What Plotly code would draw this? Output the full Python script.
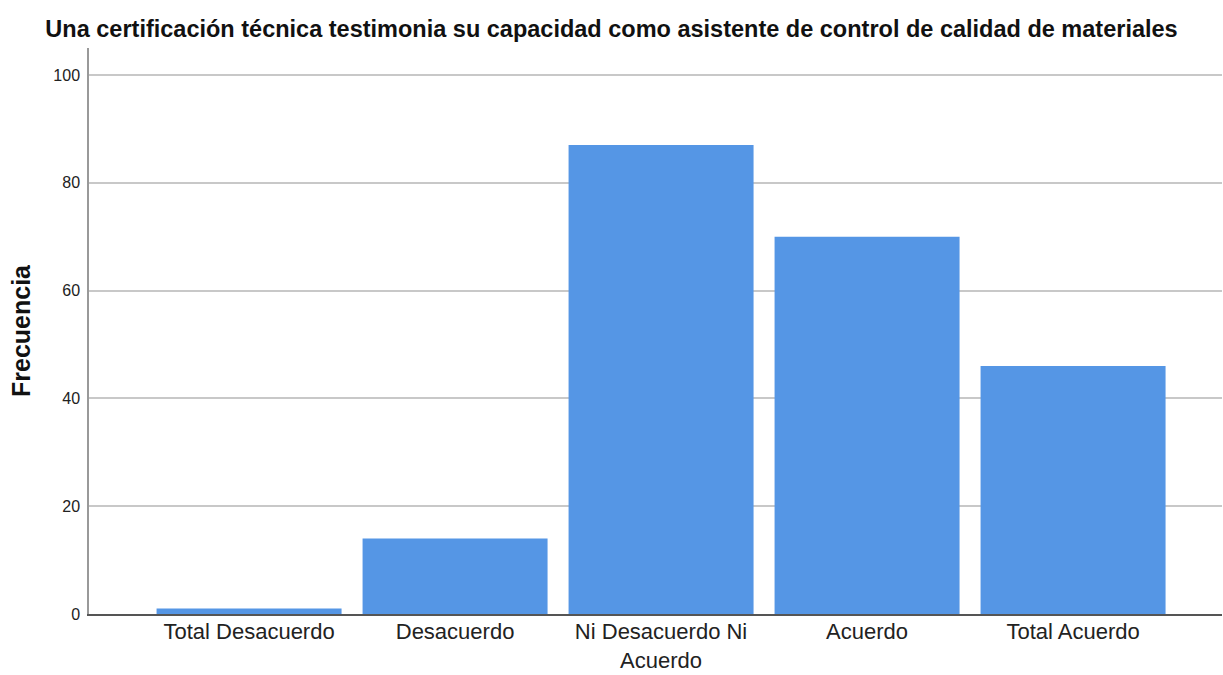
import plotly.graph_objects as go

categories = ["Total Desacuerdo", "Desacuerdo", "Ni Desacuerdo Ni<br>Acuerdo", "Acuerdo", "Total Acuerdo"]
frecuencia = [1, 14, 87, 70, 46]
y_ticks = [0, 20, 40, 60, 80, 100]

title_text = "Una certificación técnica testimonia su capacidad como asistente de control de calidad de materiales"
y_title = "Frecuencia"

FONT = "Liberation Sans, Arial, sans-serif"

fig = go.Figure(
    go.Bar(
        x=list(range(len(categories))),
        y=frecuencia,
        marker=dict(color="#5596E5", line=dict(width=0)),
        hoverinfo="skip",
    )
)

fig.update_layout(
    width=1223,
    height=675,
    margin=dict(l=89, r=1, t=48, b=61),
    paper_bgcolor="white",
    plot_bgcolor="white",
    bargap=0.102,
    showlegend=False,
    title=dict(
        text="<b>" + title_text + "</b>",
        x=0.5,
        xanchor="center",
        y=0.957,
        yanchor="middle",
        font=dict(family=FONT, size=23.5, color="#111111"),
    ),
    font=dict(family=FONT, color="#222222"),
)

fig.update_xaxes(
    tickmode="array",
    tickvals=list(range(len(categories))),
    ticktext=categories,
    range=[-0.777, 4.723],
    showgrid=False,
    zeroline=False,
    showline=True,
    linecolor="#555555",
    linewidth=1.5,
    ticks="",
    automargin=False,
    ticklabelstandoff=-3,
    tickfont=dict(family=FONT, size=22, color="#222222"),
)

fig.update_yaxes(
    tickmode="array",
    tickvals=y_ticks,
    range=[0, 105],
    showgrid=True,
    gridcolor="#c8c8c8",
    gridwidth=1.5,
    zeroline=False,
    showline=True,
    linecolor="#999999",
    linewidth=1.5,
    ticks="",
    automargin=False,
    ticklabelstandoff=4,
    tickfont=dict(family=FONT, size=16, color="#222222"),
    title=dict(
        text="<b>" + y_title + "</b>",
        font=dict(family=FONT, size=25, color="#111111"),
        standoff=16,
    ),
)

fig.write_html(
    "out.html",
    config={"displayModeBar": False},
    post_script="document.body.style.margin='0';",
)
